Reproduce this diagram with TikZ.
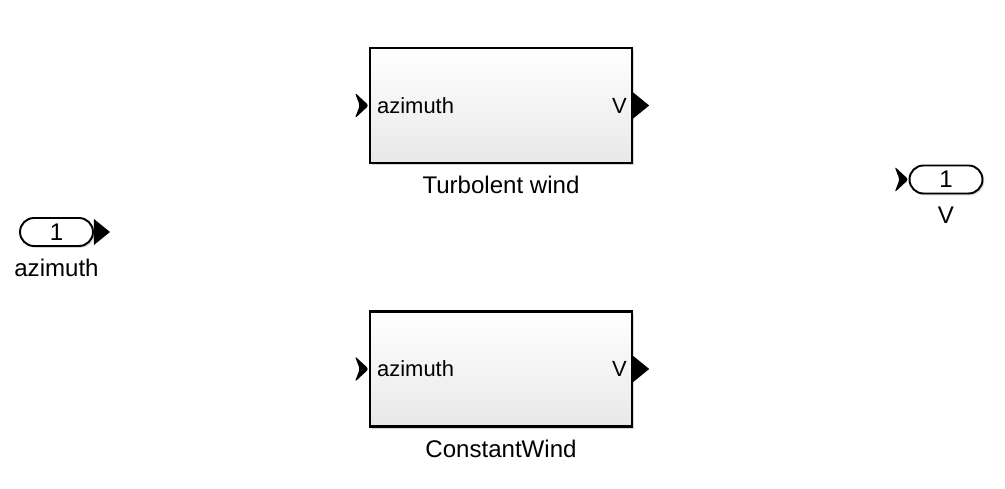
\documentclass[tikz,border=0pt]{standalone}
\usepackage{fontspec}
\setmainfont{Liberation Sans}
\usetikzlibrary{positioning,shadows}

\tikzset{
  blk/.style={draw, line width=1.4pt, minimum width=5.24cm, minimum height=2.3cm,
    top color=white, bottom color=gray!18, inner sep=0pt,
    drop shadow={shadow xshift=1.2pt, shadow yshift=-1.2pt, fill=gray!60}},
  pill/.style={draw, line width=1.1pt, rounded corners=0.28cm, minimum width=1.46cm,
    minimum height=0.56cm, fill=white, inner sep=0pt, font=\fontsize{13.7}{16}\selectfont,
    drop shadow={shadow xshift=1pt, shadow yshift=-1pt, fill=gray!60}},
  lbl/.style={font=\fontsize{13.7}{16}\selectfont, inner sep=1pt},
  inlbl/.style={font=\fontsize{12.5}{15}\selectfont, inner sep=0pt}
}
% output arrow head and input notch of a port
\newcommand{\outtip}[1]{\fill (#1) ++(0,-13) -- ++(16,13) -- ++(-16,13) -- cycle;}
\newcommand{\intip}[1]{\fill[rounded corners=1.5pt] (#1) ++(-14,-13) -- ++(14,13) -- ++(-14,13)
  -- ++(5,-13) -- cycle;}

\begin{document}
\begin{tikzpicture}[x=0.02cm, y=-0.02cm]
  \useasboundingbox (0,0) rectangle (1005,489);
  % subsystem blocks
  \node[blk] (turb) at (501,105.5) {};
  \node[lbl, below=0.2cm of turb] (turblbl) {Turbolent wind};
  \node[blk] (const) at (501,369) {};
  \node[lbl, below=0.2cm of const] (constlbl) {ConstantWind};
  \foreach \b in {turb,const} {
    \node[inlbl, anchor=west] (\b az) at ([xshift=0.16cm]\b.west) {azimuth};
    \node[inlbl, anchor=east] (\b v) at ([xshift=-0.12cm]\b.east) {V};
    \intip{\b.west}
    \outtip{\b.east}
  }
  % inport and outport
  \node[pill] (azin) at (56.5,232) {1};
  \node[lbl, below=0.2cm of azin] (azinlbl) {azimuth};
  \outtip{azin.east}
  \node[pill] (vout) at (946,179.5) {1};
  \node[lbl, below=0.2cm of vout] (voutlbl) {V};
  \intip{vout.west}
\end{tikzpicture}
\end{document}
